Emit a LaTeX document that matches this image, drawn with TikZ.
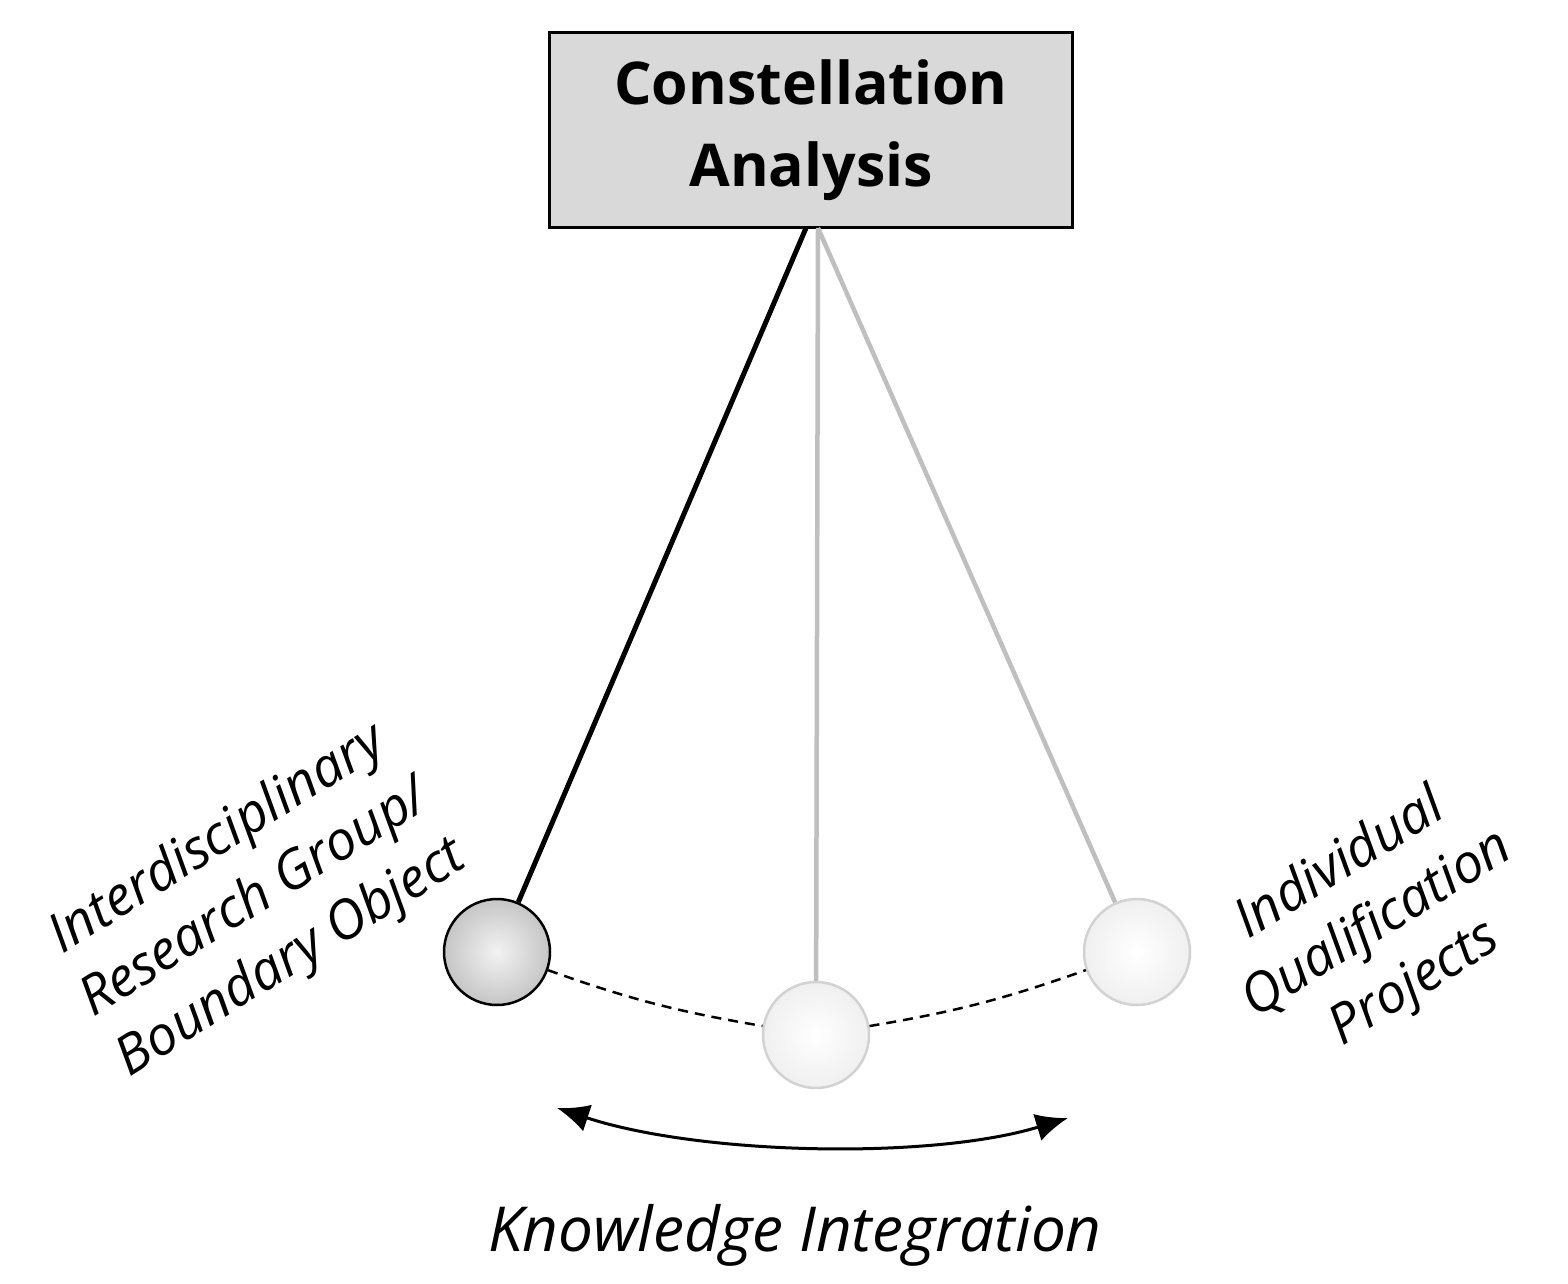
\documentclass[tikz,border=0pt]{standalone}
\usepackage{fontspec}
\setmainfont{Open Sans}
\usetikzlibrary{arrows.meta}
\begin{document}
\begin{tikzpicture}[x=1pt,y=-1pt,
  ball/.style={circle,minimum size=106pt,inner sep=0pt,line width=2.5pt},
  lbl/.style={font=\itshape\fontsize{54}{70}\selectfont,align=center,rotate=32}]
\useasboundingbox (0,0) rectangle (1568,1284);
\node[draw,line width=3pt,fill=gray!30,minimum width=523pt,minimum height=195pt,align=center,
  font=\bfseries\fontsize{59}{82}\selectfont] (box) at (811,130) {Constellation\\Analysis};
\node[ball,draw=black,inner color=gray!10,outer color=gray!45] (L) at (497,952) {};
\node[ball,draw=gray!35,inner color=white,outer color=gray!12] (M) at (816,1035) {};
\node[ball,draw=gray!35,inner color=white,outer color=gray!12] (R) at (1137,952) {};
\coordinate (t1) at (806,228);
\coordinate (t2) at (818,228);
\draw[line width=5pt] (t1) -- (L);
\draw[line width=4.5pt,gray!50] (t2) -- (M);
\draw[line width=4.5pt,gray!50] (t2) -- (R);
\draw[line width=2.5pt,dash pattern=on 10pt off 7pt] (L) to[bend right=5] (M);
\draw[line width=2.5pt,dash pattern=on 10pt off 7pt] (M) to[bend right=5] (R);
\coordinate (a1) at (557,1108);
\coordinate (a2) at (1068,1118);
\draw[line width=3pt,{Latex[length=32pt,width=28pt]}-{Latex[length=32pt,width=28pt]}] (a1) .. controls (700,1155) and (930,1160) .. (a2);
\node[font=\itshape\fontsize{62}{66}\selectfont] (ki) at (795,1235) {Knowledge Integration};
\node[lbl] (lt) at (255,900) {Interdisciplinary\\Research Group/\\Boundary Object};
\node[lbl] (rt) at (1378,925) {Individual\\Qualification\\Projects};
\end{tikzpicture}
\end{document}
